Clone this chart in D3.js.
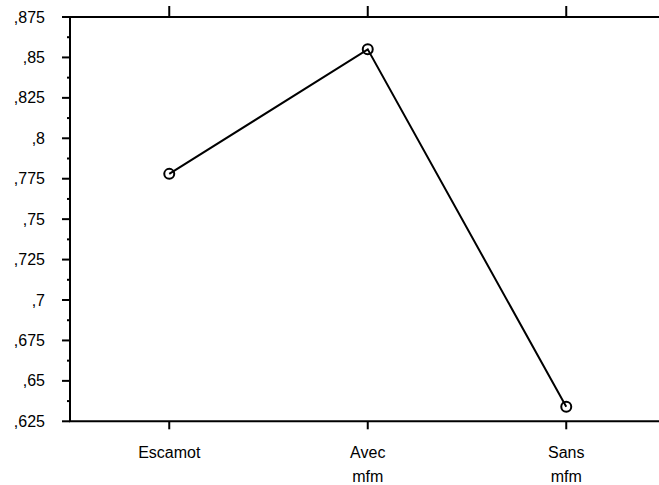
<!DOCTYPE html>
<html lang="fr">
<head>
    <meta charset="UTF-8">
    <title>Moyennes</title>
    <script src="https://d3js.org/d3.v7.min.js"></script>
    <style>
        body { margin: 0; background: #fff; font-family: "Liberation Sans", Arial, sans-serif; }
        svg { display: block; }
        .tick-label { font-size: 16px; fill: #000; }
    </style>
</head>
<body>
    <svg id="chart" width="659" height="485"></svg>
    <script>
        const categories = [["Escamot"], ["Avec", "mfm"], ["Sans", "mfm"]];
        const values = [0.778, 0.855, 0.634];
        const yTicks = [0.625, 0.65, 0.675, 0.7, 0.725, 0.75, 0.775, 0.8, 0.825, 0.85, 0.875];
        const yMinorTicks = d3.range(0.6375, 0.875, 0.025);

        const svg = d3.select("#chart");
        const plotLeft = 70, plotRight = 665.5, plotTop = 17, plotBottom = 421.3;

        const x = d3.scalePoint()
            .domain(categories.map((c, i) => i))
            .range([plotLeft, plotRight])
            .padding(0.5);
        const y = d3.scaleLinear().domain([0.625, 0.875]).range([plotBottom, plotTop]);

        const fmt = v => String(+v.toFixed(4)).replace("0.", ",");

        // frame: left, top, bottom lines
        svg.append("line").attr("x1", plotLeft).attr("x2", plotLeft).attr("y1", plotTop).attr("y2", plotBottom)
            .attr("stroke", "#000").attr("stroke-width", 2);
        svg.append("line").attr("x1", plotLeft - 1).attr("x2", 659).attr("y1", plotTop).attr("y2", plotTop)
            .attr("stroke", "#000").attr("stroke-width", 2);
        svg.append("line").attr("x1", plotLeft - 1).attr("x2", 659).attr("y1", plotBottom).attr("y2", plotBottom)
            .attr("stroke", "#000").attr("stroke-width", 2);

        // y ticks
        svg.selectAll(".ytick").data(yTicks).join("line")
            .attr("x1", plotLeft - 8).attr("x2", plotLeft)
            .attr("y1", d => y(d)).attr("y2", d => y(d))
            .attr("stroke", "#000").attr("stroke-width", 2);
        svg.selectAll(".yminor").data(yMinorTicks).join("line")
            .attr("x1", plotLeft - 3).attr("x2", plotLeft)
            .attr("y1", d => y(d)).attr("y2", d => y(d))
            .attr("stroke", "#000").attr("stroke-width", 2);
        svg.selectAll(".ylab").data(yTicks).join("text")
            .attr("class", "tick-label")
            .attr("x", 45).attr("y", d => y(d))
            .attr("dy", "0.35em")
            .attr("text-anchor", "end")
            .text(fmt);

        // x ticks top and bottom
        svg.selectAll(".xtop").data(x.domain()).join("line")
            .attr("x1", d => x(d)).attr("x2", d => x(d))
            .attr("y1", plotTop - 11).attr("y2", plotTop)
            .attr("stroke", "#000").attr("stroke-width", 2);
        svg.selectAll(".xbot").data(x.domain()).join("line")
            .attr("x1", d => x(d)).attr("x2", d => x(d))
            .attr("y1", plotBottom).attr("y2", plotBottom + 8)
            .attr("stroke", "#000").attr("stroke-width", 2);

        const xl = svg.selectAll(".xlab").data(x.domain()).join("text")
            .attr("class", "tick-label")
            .attr("text-anchor", "middle")
            .attr("x", d => x(d));
        xl.selectAll("tspan").data(d => categories[d].map(t => ({ t, cx: x(d) }))).join("tspan")
            .attr("x", d => d.cx)
            .attr("y", (d, i) => 458 + i * 24)
            .text(d => d.t);

        // line + markers
        const line = d3.line().x((d, i) => x(i)).y(d => y(d));
        svg.append("path").datum(values)
            .attr("d", line)
            .attr("fill", "none").attr("stroke", "#000").attr("stroke-width", 2);
        svg.selectAll(".pt").data(values).join("circle")
            .attr("cx", (d, i) => x(i)).attr("cy", d => y(d))
            .attr("r", 5)
            .attr("fill", "none").attr("stroke", "#000").attr("stroke-width", 2);
    </script>
</body>
</html>
